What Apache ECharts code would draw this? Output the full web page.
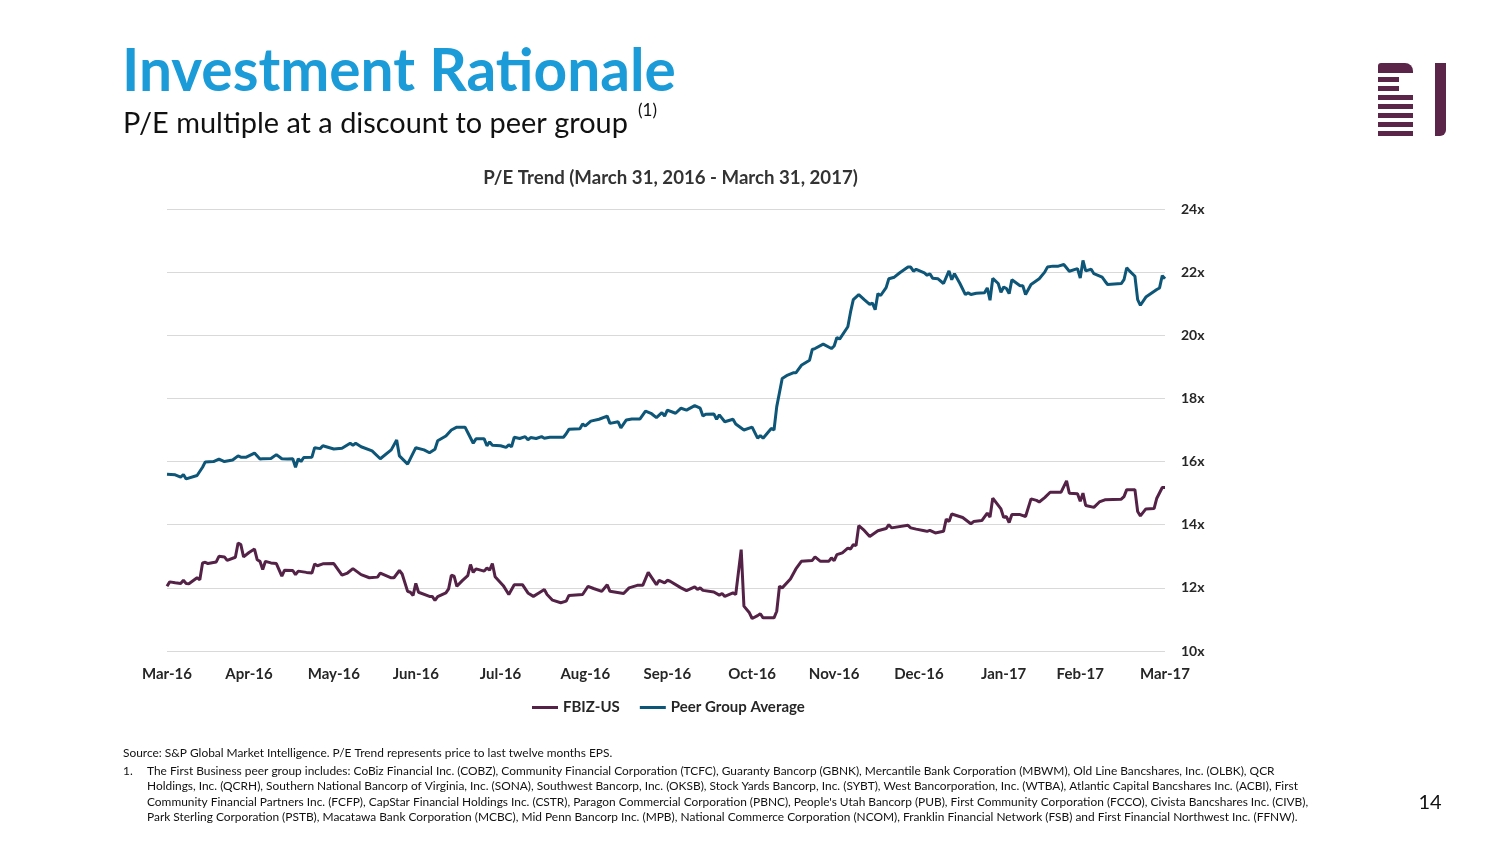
<!DOCTYPE html>
<html>
<head>
<meta charset="utf-8">
<script src="https://cdn.jsdelivr.net/npm/echarts@6/dist/echarts.min.js"></script>
<style>
html,body{margin:0;padding:0;background:#fff;}
#chart{width:1504px;height:846px;}
</style>
</head>
<body>
<div id="chart"></div>
<script>
// ---------- DATA ----------
// Day offsets are counted from March 31, 2016.
const startDate = '2016-03-31';
const tickDates = ['2016-03-31','2016-04-30','2016-05-31','2016-06-30','2016-07-31','2016-08-31','2016-09-30','2016-10-31','2016-11-30','2016-12-31','2017-01-31','2017-02-28','2017-03-31'];
const tickLabels = ['Mar-16','Apr-16','May-16','Jun-16','Jul-16','Aug-16','Sep-16','Oct-16','Nov-16','Dec-16','Jan-17','Feb-17','Mar-17'];
const seriesNames = ['FBIZ-US', 'Peer Group Average'];
const yTicks = { min: 10, max: 24, step: 2 };

// [day offset, P/E]
const fbizPE = [
[0,12.05],[1,12.19],[3,12.16],[5,12.14],[6,12.24],[7,12.14],[8,12.13],[11,12.32],[12,12.26],[13,12.79],
[14,12.81],[15,12.77],[18,12.82],[19,13.00],[21,12.98],[22,12.87],[25,12.97],[26,13.42],[27,13.37],[28,12.98],
[30,13.12],[32,13.23],[33,12.89],[34,12.84],[35,12.58],[36,12.84],[38,12.79],[40,12.77],[42,12.37],[43,12.56],
[46,12.55],[47,12.42],[48,12.53],[51,12.49],[53,12.47],[54,12.76],[55,12.70],[57,12.76],[61,12.77],[64,12.40],
[66,12.47],[68,12.61],[71,12.42],[74,12.32],[77,12.34],[78,12.47],[82,12.32],[83,12.32],[85,12.55],[86,12.44],
[88,11.89],[89,11.86],[90,11.76],[91,12.14],[92,11.86],[96,11.73],[97,11.73],[98,11.60],[99,11.72],[102,11.84],
[103,11.97],[104,12.40],[105,12.37],[106,12.05],[108,12.23],[110,12.39],[111,12.74],[112,12.49],[113,12.60],[116,12.53],
[117,12.63],[118,12.56],[119,12.77],[120,12.35],[123,12.07],[125,11.79],[127,12.10],[130,12.10],[132,11.84],[134,11.73],
[136,11.84],[138,11.95],[139,11.79],[141,11.61],[144,11.53],[146,11.58],[147,11.76],[152,11.79],[154,12.05],[156,11.98],
[159,11.89],[161,12.10],[162,11.89],[167,11.82],[169,12.00],[172,12.08],[174,12.08],[176,12.49],[179,12.10],[180,12.24],
[182,12.16],[183,12.24],[184,12.21],[188,12.00],[190,11.91],[193,12.03],[194,11.95],[195,12.00],[196,11.92],[200,11.87],
[202,11.77],[203,11.82],[204,11.73],[207,11.84],[208,11.79],[210,13.21],[211,11.42],[213,11.21],[214,11.03],[216,11.12],
[217,11.18],[218,11.05],[222,11.05],[223,11.26],[224,12.05],[225,12.00],[228,12.28],[230,12.60],[232,12.84],[236,12.87],
[237,12.98],[239,12.84],[242,12.84],[243,12.95],[244,12.86],[245,13.05],[247,13.11],[249,13.26],[250,13.23],[251,13.37],
[252,13.34],[253,13.97],[255,13.82],[257,13.63],[260,13.81],[263,13.88],[264,14.00],[265,13.90],[271,13.98],[272,13.90],
[274,13.86],[277,13.81],[278,13.79],[279,13.82],[281,13.74],[284,13.79],[285,14.18],[286,14.10],[287,14.34],[291,14.23],
[294,14.03],[295,14.10],[298,14.13],[300,14.37],[301,14.24],[302,14.84],[305,14.50],[306,14.23],[307,14.26],[308,14.07],
[309,14.32],[312,14.32],[314,14.26],[316,14.82],[318,14.77],[319,14.72],[321,14.86],[323,15.03],[327,15.03],[329,15.39],
[330,15.00],[333,14.98],[334,14.74],[335,15.00],[336,14.61],[339,14.55],[341,14.72],[343,14.79],[349,14.81],[350,14.89],
[351,15.11],[354,15.11],[355,14.42],[356,14.28],[358,14.50],[361,14.51],[362,14.84],[364,15.18],[365,15.18]
];

const peerPE = [
[0,15.60],[3,15.58],[5,15.51],[6,15.59],[7,15.45],[11,15.56],[13,15.82],[14,15.99],[17,16.00],[19,16.08],
[21,16.00],[24,16.05],[26,16.18],[27,16.14],[29,16.14],[32,16.27],[34,16.08],[35,16.09],[38,16.10],[40,16.22],
[42,16.09],[44,16.08],[46,16.09],[47,15.82],[48,16.09],[49,16.00],[50,16.13],[53,16.14],[54,16.44],[56,16.41],
[57,16.50],[61,16.40],[64,16.42],[67,16.58],[68,16.52],[69,16.58],[71,16.47],[75,16.34],[78,16.09],[82,16.37],
[84,16.68],[85,16.18],[88,15.92],[91,16.44],[94,16.37],[96,16.28],[98,16.39],[99,16.66],[102,16.81],[104,17.00],
[106,17.09],[109,17.09],[110,16.92],[112,16.58],[113,16.72],[116,16.72],[117,16.50],[118,16.62],[119,16.52],[122,16.50],
[124,16.45],[125,16.53],[126,16.47],[127,16.77],[129,16.73],[131,16.79],[132,16.69],[133,16.76],[135,16.73],[137,16.79],
[138,16.74],[140,16.77],[145,16.77],[146,16.88],[147,17.02],[151,17.04],[152,17.19],[153,17.13],[155,17.28],[158,17.34],
[161,17.44],[162,17.21],[165,17.26],[166,17.07],[168,17.32],[170,17.35],[173,17.35],[175,17.60],[177,17.53],[179,17.39],
[181,17.55],[182,17.44],[183,17.63],[186,17.53],[188,17.69],[190,17.63],[193,17.77],[195,17.69],[196,17.44],[197,17.50],
[200,17.51],[201,17.34],[202,17.48],[204,17.26],[207,17.34],[208,17.19],[211,17.00],[214,17.09],[216,16.74],[217,16.82],
[218,16.74],[221,17.05],[222,17.00],[223,17.74],[225,18.63],[227,18.74],[229,18.81],[230,18.81],[232,19.05],[235,19.21],
[236,19.55],[237,19.58],[240,19.72],[243,19.58],[244,19.66],[245,19.93],[246,19.88],[249,20.27],[250,20.74],[251,21.13],
[253,21.29],[255,21.13],[257,20.98],[258,21.02],[259,20.81],[260,21.32],[261,21.26],[263,21.51],[264,21.79],[266,21.84],
[268,21.98],[271,22.16],[272,22.16],[273,22.03],[274,22.09],[277,21.98],[278,21.90],[279,21.95],[280,21.81],[282,21.79],
[284,21.64],[286,22.04],[287,21.76],[288,21.95],[290,21.64],[292,21.29],[293,21.35],[294,21.29],[296,21.33],[299,21.35],
[300,21.50],[301,21.11],[302,21.80],[304,21.64],[305,21.36],[306,21.53],[307,21.48],[308,21.32],[309,21.76],[312,21.57],
[313,21.57],[314,21.29],[316,21.61],[319,21.79],[321,22.00],[322,22.16],[324,22.19],[326,22.19],[328,22.24],[330,22.03],
[333,22.11],[334,21.81],[335,22.37],[336,22.04],[338,22.09],[339,21.95],[342,21.84],[343,21.72],[344,21.61],[349,21.64],
[350,21.76],[351,22.14],[352,22.04],[354,21.87],[355,21.13],[356,20.95],[358,21.21],[362,21.45],[363,21.50],[364,21.89],
[365,21.79]
];

const pageTitle = 'Investment Rationale';
const pageSubtitle = 'P/E multiple at a discount to peer group';
const chartTitle = 'P/E Trend (March 31, 2016 - March 31, 2017)';
const sourceLine = 'Source: S&P Global Market Intelligence. P/E Trend represents price to last twelve months EPS.';
const noteLines = [
'The First Business peer group includes: CoBiz Financial Inc. (COBZ), Community Financial Corporation (TCFC), Guaranty Bancorp (GBNK), Mercantile Bank Corporation (MBWM), Old Line Bancshares, Inc. (OLBK), QCR',
'Holdings, Inc. (QCRH), Southern National Bancorp of Virginia, Inc. (SONA), Southwest Bancorp, Inc. (OKSB), Stock Yards Bancorp, Inc. (SYBT), West Bancorporation, Inc. (WTBA), Atlantic Capital Bancshares Inc. (ACBI), First',
'Community Financial Partners Inc. (FCFP), CapStar Financial Holdings Inc. (CSTR), Paragon Commercial Corporation (PBNC), People\'s Utah Bancorp (PUB), First Community Corporation (FCCO), Civista Bancshares Inc. (CIVB),',
'Park Sterling Corporation (PSTB), Macatawa Bank Corporation (MCBC), Mid Penn Bancorp Inc. (MPB), National Commerce Corporation (NCOM), Franklin Financial Network (FSB) and First Financial Northwest Inc. (FFNW).'
];
const pageNumber = '14';

// ---------- HELPERS ----------
function parseDay(s) { const p = s.split('-').map(Number); return Date.UTC(p[0], p[1] - 1, p[2]) / 86400000; }
const day0 = parseDay(startDate);
const tickDays = tickDates.map(function (s) { return parseDay(s) - day0; });
const FONT = 'Lato';
const mctx = document.createElement('canvas').getContext('2d');
function fitSize(text, weight, width) {
  mctx.font = weight + ' 100px ' + FONT;
  return 100 * width / mctx.measureText(text).width;
}

const BLUE = '#1b9bd7';
const PURPLE = '#5b2449';
const FBIZ_COLOR = '#542246';
const PEER_COLOR = '#0d5678';
const TEXT = '#262626';

const titleSize = fitSize(pageTitle, 'bold', 554);
const subSize = fitSize(pageSubtitle, 'normal', 505);
const chartTitleSize = fitSize(chartTitle, 'bold', 375);
const noteSize = fitSize(noteLines[0], 'normal', 1129);

function txt(text, x, y, size, weight, color, align) {
  return {
    type: 'text', silent: true,
    style: {
      text: text, x: x, y: y, fill: color, fontSize: size, fontWeight: weight, fontFamily: FONT,
      align: align || 'left', verticalAlign: 'middle', textAlign: align || 'left', textVerticalAlign: 'middle'
    }
  };
}
function box(x, y, w, h, r) {
  return { type: 'rect', silent: true, shape: { x: x, y: y, width: w, height: h, r: r || 0 }, style: { fill: PURPLE } };
}

const graphics = [
  txt(pageTitle, 122, 72, titleSize, 'bold', BLUE),
  txt(pageSubtitle, 123, 124, subSize, 'normal', '#111'),
  txt('(1)', 638, 111, 17, 'normal', '#111'),
  txt(chartTitle, 670.5, 178, chartTitleSize, 'bold', '#333', 'center'),
  txt(sourceLine, 123, 753, noteSize, 'normal', '#111'),
  txt('1.', 123, 771, noteSize, 'normal', '#111'),
  txt(pageNumber, 1430, 803, 20, 'normal', '#111', 'center'),
  // logo
  box(1378, 63, 35, 10, [3, 8, 0, 0]),
  box(1378, 77, 21, 5),
  box(1378, 86, 21, 5),
  box(1378, 95, 35, 5),
  box(1378, 104, 35, 5),
  box(1378, 113, 35, 5),
  box(1378, 122, 35, 5),
  box(1378, 131, 35, 5),
  box(1435, 63, 11, 73, [0, 0, 6, 0])
];
noteLines.forEach(function (l, i) {
  graphics.push(txt(l, 147, 771 + i * 15.5, noteSize, 'normal', '#111'));
});

// ---------- CHART ----------
const chart = echarts.init(document.getElementById('chart'), null, { renderer: 'canvas' });
chart.setOption({
  animation: false,
  backgroundColor: '#fff',
  textStyle: { fontFamily: FONT },
  grid: { left: 167, right: 339, top: 209, bottom: 195 },
  legend: {
    data: seriesNames,
    left: 532, top: 700, padding: 0,
    itemWidth: 26, itemHeight: 3, itemGap: 20,
    icon: 'rect',
    textStyle: { fontFamily: FONT, fontWeight: 'bold', fontSize: 15, color: TEXT }
  },
  xAxis: {
    type: 'value',
    min: tickDays[0], max: tickDays[tickDays.length - 1],
    axisLine: { show: false },
    axisTick: { show: false },
    splitLine: { show: false },
    axisLabel: {
      customValues: tickDays,
      margin: 16,
      fontFamily: FONT, fontWeight: 'bold', fontSize: 15, color: TEXT,
      formatter: function (v) {
        const i = tickDays.indexOf(Math.round(v));
        return i >= 0 ? tickLabels[i] : '';
      }
    }
  },
  yAxis: {
    type: 'value', position: 'right',
    min: yTicks.min, max: yTicks.max, interval: yTicks.step,
    axisLine: { show: false }, axisTick: { show: false },
    splitLine: { lineStyle: { color: '#d9d9d9', width: 1 } },
    axisLabel: { formatter: '{value}x', margin: 16, fontFamily: FONT, fontWeight: 'bold', fontSize: 14, color: TEXT }
  },
  series: [
    {
      name: seriesNames[1], type: 'line', symbol: 'none', showSymbol: false,
      lineStyle: { color: PEER_COLOR, width: 3 }, itemStyle: { color: PEER_COLOR },
      data: peerPE, z: 2
    },
    {
      name: seriesNames[0], type: 'line', symbol: 'none', showSymbol: false,
      lineStyle: { color: FBIZ_COLOR, width: 3 }, itemStyle: { color: FBIZ_COLOR },
      data: fbizPE, z: 3
    }
  ],
  graphic: graphics
});
</script>
</body>
</html>
